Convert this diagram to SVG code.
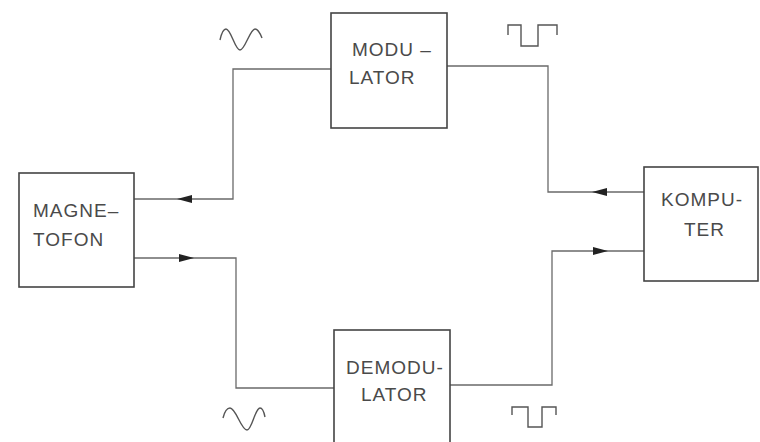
<svg xmlns="http://www.w3.org/2000/svg" width="760" height="442" viewBox="0 0 760 442">
<defs>
<style>
.box{fill:#fff;stroke:#444;stroke-width:1.6}
.lbl{font-family:"Liberation Sans","DejaVu Sans",sans-serif;font-size:19px;fill:#4a4a4a;letter-spacing:1px}
.wire{fill:none;stroke:#6a6a6a;stroke-width:1.3}
.head{fill:#222}
.sig{fill:none;stroke:#555;stroke-width:1.4}
</style>
</defs>
<rect width="760" height="442" fill="#fff"/>
<g id="connectors">
<path class="wire" d="M134,199 H233 V69 H331"/>
<path class="wire" d="M447,66 H548 V192 H644"/>
<path class="wire" d="M134,258 H236 V388 H334"/>
<path class="wire" d="M450,385 H552 V251 H644"/>
<polygon class="head" points="177,199 192,195 192,203"/>
<polygon class="head" points="194,258 179,254 179,262"/>
<polygon class="head" points="592,192 607,188 607,196"/>
<polygon class="head" points="608,251 593,247 593,255"/>
</g>
<g id="signals">
<path class="sig" d="M220,40 C222,31 224,29 226,29 C231,29 235,50 240,50 C245,50 250,29 255,29 C258,29 260,33 262,38"/>
<path class="sig" d="M508,35 V25 H521 V46 H538 V25 H557 V35"/>
<path class="sig" d="M223,418 C225,410 227,408 230,408 C236,408 241,430 247,430 C252,430 255,408 260,408 C262,408 264,412 265,417"/>
<path class="sig" d="M512,415 V407 H528 V427 H542 V407 H556 V415"/>
</g>
<g id="magnetofon">
<rect class="box" x="19" y="173" width="115" height="114"/>
<text class="lbl" x="33" y="217">MAGNE–</text>
<text class="lbl" x="33" y="246">TOFON</text>
</g>
<g id="modulator">
<rect class="box" x="331" y="13" width="116" height="115"/>
<text class="lbl" x="352" y="56">MODU –</text>
<text class="lbl" x="349" y="84">LATOR</text>
</g>
<g id="demodulator">
<rect class="box" x="334" y="330" width="116" height="120"/>
<text class="lbl" x="346" y="374">DEMODU-</text>
<text class="lbl" x="361" y="401">LATOR</text>
</g>
<g id="komputer">
<rect class="box" x="644" y="167" width="114" height="114"/>
<text class="lbl" x="661" y="206">KOMPU-</text>
<text class="lbl" x="684" y="236">TER</text>
</g>
</svg>
